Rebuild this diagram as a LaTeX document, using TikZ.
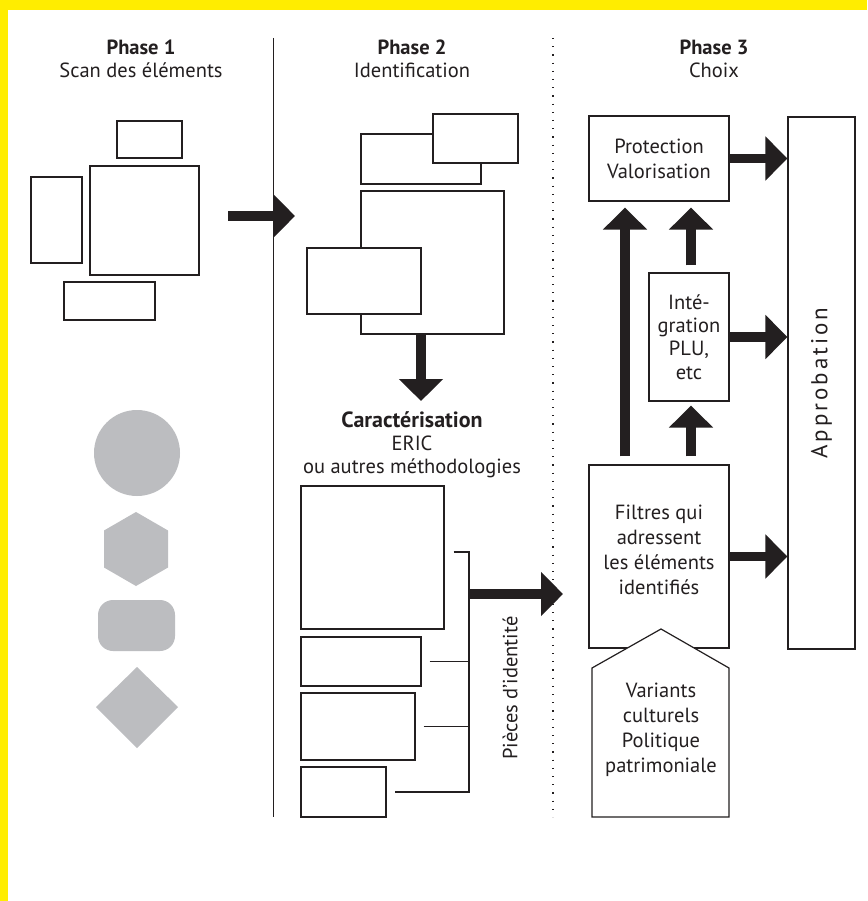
\documentclass[tikz,border=0pt]{standalone}
\usepackage{fontspec}
\setmainfont{PT Sans}
\newfontfamily\spacedfont[LetterSpace=13]{PT Sans}
\usetikzlibrary{arrows.meta}
\definecolor{ink}{HTML}{231F20}
\definecolor{yel}{HTML}{FFED00}
\definecolor{shapegray}{HTML}{BCBDC0}
\begin{document}
\begin{tikzpicture}[x=1pt,y=-1pt,
  box/.style={draw=ink, line width=1.2pt, fill=white, inner sep=0pt, rectangle},
  thinline/.style={draw=ink, line width=1.2pt, line join=miter},
  bigarrow/.style={draw=ink, line width=9.5pt, -{Triangle[length=22pt,width=43pt]}},
  txt/.style={text=ink, inner sep=0pt, align=center, font=\fontsize{20.5}{24}\selectfont},
  boxtxt/.style={text=ink, inner sep=0pt, align=center, font=\fontsize{20.5}{25}\selectfont},
  head/.style={text=ink, inner sep=0pt, anchor=base, font=\bfseries\fontsize{20.5}{24}\selectfont},
  sub/.style={text=ink, inner sep=0pt, anchor=base, font=\fontsize{20.5}{24}\selectfont}
]
\useasboundingbox (0,0) rectangle (867,901);
\fill[white] (0,0) rectangle (867,901);
\fill[yel] (0,0) rectangle (867,10);
\fill[yel] (0,0) rectangle (8,901);

% dividers
\draw[ink, line width=1pt] (273,38) -- (273,817);
\draw[ink, line width=1.2pt, dash pattern=on 1.2pt off 7pt] (553,38) -- (553,817);

% headers
\node[head] (ph1) at (141,55) {Phase 1};
\node[sub]  (ph1s) at (141,78) {Scan des éléments};
\node[head] (ph2) at (412,55) {Phase 2};
\node[sub]  (ph2s) at (412,78) {Identification};
\node[head] (ph3) at (714,55) {Phase 3};
\node[sub]  (ph3s) at (714,78) {Choix};

% phase 1 boxes
\node[box, minimum width=65pt, minimum height=37pt] (P1a) at (149.5,139.5) {};
\node[box, minimum width=109pt, minimum height=109pt] (P1b) at (144.5,220.5) {};
\node[box, minimum width=51pt, minimum height=86pt] (P1c) at (56.5,220) {};
\node[box, minimum width=91pt, minimum height=38pt] (P1d) at (109.5,301) {};

% phase 1 shapes
\fill[shapegray] (137,453) circle (43pt);
\fill[shapegray] (136,512) -- (168,530.5) -- (168,567.5) -- (136,586) -- (104,567.5) -- (104,530.5) -- cycle;
\fill[shapegray, rounded corners=15pt] (98,600) rectangle (175,651);
\fill[shapegray] (137,667) -- (178,707) -- (137,748) -- (96,707) -- cycle;

% arrow phase 1 -> 2
\coordinate (a1s) at (228,216);
\coordinate (a1e) at (295,216);
\draw[bigarrow] (a1s) -- (a1e);

% phase 2 boxes
\node[box, minimum width=120pt, minimum height=50pt] (P2b) at (421,159) {};
\node[box, minimum width=85pt, minimum height=49pt] (P2a) at (475.5,138.5) {};
\node[box, minimum width=143pt, minimum height=143pt] (P2c) at (432.5,262.5) {};
\node[box, minimum width=114pt, minimum height=66pt] (P2d) at (364,281) {};

% down arrow
\coordinate (dtip) at (421,401);
\draw[bigarrow] (P2c.south -| dtip) -- (dtip);

% caracterisation
\node[head, font=\bfseries\fontsize{22}{24}\selectfont] (car) at (412,427) {Caractérisation};
\node[sub] (eric) at (412,450) {ERIC};
\node[sub] (meth) at (412,473) {ou autres méthodologies};

\node[box, minimum width=143pt, minimum height=143pt] (C1) at (372.5,557.5) {};
\node[box, minimum width=120pt, minimum height=49pt] (C2) at (361,661.5) {};
\node[box, minimum width=114pt, minimum height=67pt] (C3) at (358,726.5) {};
\node[box, minimum width=85pt, minimum height=50pt] (C4) at (343.5,792) {};

\coordinate (brk) at (469,594);
\draw[thinline] ([xshift=9pt,yshift=5.5pt]C1.east) -| (brk |- C4.east) -- ([xshift=8pt]C4.east);
\draw[thinline] ([xshift=8pt]C2.east) -- (C2.east -| brk);
\draw[thinline] ([xshift=8pt]C3.east) -- (C3.east -| brk);
\coordinate (pcs) at (563,594);
\draw[bigarrow] (brk) -- (pcs);
\node[txt, rotate=90] (pid) at (510,688) {Pièces d'identité};

% phase 3
\node[box, minimum width=140pt, minimum height=85pt, boxtxt] (Prot) at (659,158.5) {Protection\\Valorisation};
\node[box, minimum width=80pt, minimum height=128pt, font=\fontsize{20.5}{23.3}\selectfont, text=ink, align=center] (Integ) at (689,337) {Inté-\\gration\\PLU,\\etc};
\node[box, minimum width=140pt, minimum height=183pt] (Filt) at (659,556.5) {};
\node[boxtxt] (Filttxt) at (659,550) {Filtres qui\\adressent\\les éléments\\identifiés};
\draw[box] (592,817) -- (729,817) -- (729,668) -- (661,629) -- (592,668) -- cycle;
\node[boxtxt] (Var) at (661,730) {Variants\\culturels\\Politique\\patrimoniale};
\node[box, minimum width=67pt, minimum height=532pt] (Appro) at (821.5,383) {};
\node[text=ink, inner sep=0pt, rotate=90, font=\spacedfont\fontsize{23}{26}\selectfont] (apt) at (Appro.center) {Approbation};

\draw[bigarrow] (Prot.east) -- (Appro.west |- Prot.east);
\draw[bigarrow] (Integ.east) -- (Appro.west |- Integ.east);
\draw[bigarrow] (Filt.east) -- (Appro.west |- Filt.east);

\coordinate (colL) at (625,0);
\coordinate (colR) at (691,0);
\draw[bigarrow, shorten <=8pt, shorten >=6pt] (Filt.north -| colL) -- (Prot.south -| colL);
\draw[bigarrow, shorten <=8pt, shorten >=4pt] (Filt.north -| colR) -- (Integ.south -| colR);
\draw[bigarrow, shorten <=7pt, shorten >=6pt] (Integ.north -| colR) -- (Prot.south -| colR);
\end{tikzpicture}
\end{document}
